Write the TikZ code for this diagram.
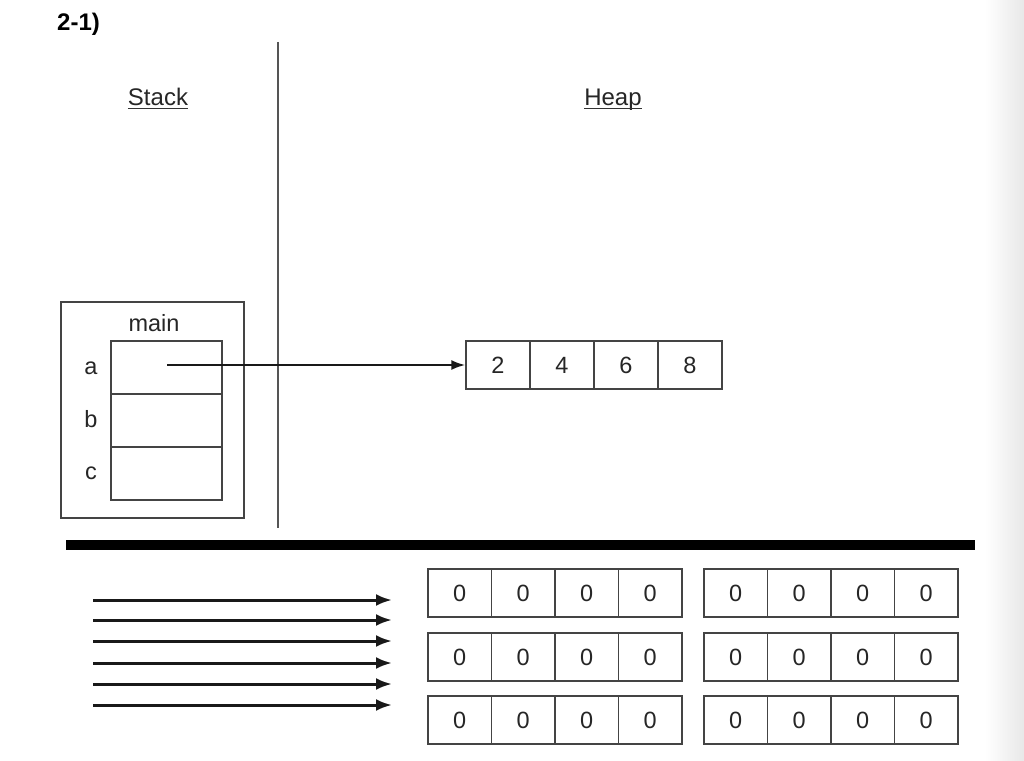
\documentclass[tikz,border=0pt]{standalone}
\usepackage{fontspec}
\setmainfont{Liberation Sans}
\usetikzlibrary{arrows.meta}
\definecolor{boxc}{HTML}{444444}
\definecolor{linec}{HTML}{555555}
\tikzset{
  cell/.style={draw=boxc, line width=1.3pt, minimum width=64pt, minimum height=48pt, inner sep=0pt, text height=16pt, text depth=0pt, font=\fontsize{23.5}{26}\selectfont, text=black!85},
  zcell/.style={draw=boxc, line width=1.3pt, minimum width=63.5pt, minimum height=48pt, inner sep=0pt, text height=16pt, text depth=0pt, font=\fontsize{23.5}{26}\selectfont, text=black!85},
  slot/.style={draw=boxc, line width=1.3pt, minimum width=111pt, minimum height=53pt, inner sep=0pt},
  lab/.style={inner sep=0pt, font=\fontsize{23.5}{27}\selectfont, text=black!85},
  title/.style={inner sep=0pt, font=\fontsize{24}{28}\selectfont, text=black!85},
  ptr/.style={line width=2.2pt, black!90, -{Latex[length=14pt,width=10pt]}},
  bigarrow/.style={line width=3pt, black!90, -{Latex[length=16pt,width=12pt]}}
}
\begin{document}
\begin{tikzpicture}[x=1pt,y=-1pt]
\fill[white] (0,0) rectangle (1024,760);
\useasboundingbox (0,0) rectangle (1024,760);
\shade[left color=white, right color=black!9] (985,0) rectangle (1024,760);

% heading
\node[anchor=base west, inner sep=0pt, font=\bfseries\fontsize{24}{28}\selectfont] (hd) at (57,31) {2-1)};

% divider
\draw[linec, line width=1.6pt] (278,42) -- (278,528);

% titles
\node[title, anchor=base] (stack) at (158,105) {Stack};
\draw[black!80, line width=1.5pt] ([yshift=-3.5pt]stack.base west) -- ([yshift=-3.5pt]stack.base east);
\node[title, anchor=base] (heap) at (613,105) {Heap};
\draw[black!80, line width=1.5pt] ([yshift=-3.5pt]heap.base west) -- ([yshift=-3.5pt]heap.base east);

% main frame
\draw[boxc, line width=1.3pt] (61,302) rectangle (244,518);
\node[lab, anchor=base] (main) at (154,331) {main};
\node[slot] (sa) at (166.5,367.5) {};
\node[slot] (sb) at (166.5,420.5) {};
\node[slot] (sc) at (166.5,473.5) {};
\node[lab, anchor=base] (la) at (91,374) {a};
\node[lab, anchor=base] (lb) at (91,427) {b};
\node[lab, anchor=base] (lc) at (91,479) {c};

% heap array
\node[cell] (h1) at (498,365) {2};
\node[cell] (h2) at (562,365) {4};
\node[cell] (h3) at (626,365) {6};
\node[cell] (h4) at (690,365) {8};

\coordinate (pa) at (167,365);
\draw[ptr] (pa) -- (h1.west);

% thick separator
\coordinate (s1) at (66,545);
\coordinate (s2) at (975,545);
\draw[black, line width=10pt] (s1) -- (s2);

% arrows
\foreach \y [count=\i] in {600,620,641,663,684,705} {
  \coordinate (as\i) at (93,\y);
  \coordinate (ae\i) at (392,\y);
  \draw[bigarrow] (as\i) -- (ae\i);
}

% zero arrays
\foreach \y [count=\r] in {593,657,720} {
  \foreach \x [count=\c] in {459.75,523.25,586.75,650.25} {
    \node[zcell] (L\r\c) at (\x,\y) {0};
  }
  \foreach \x [count=\c] in {735.75,799.25,862.75,926.25} {
    \node[zcell] (R\r\c) at (\x,\y) {0};
  }
}
\end{tikzpicture}
\end{document}
